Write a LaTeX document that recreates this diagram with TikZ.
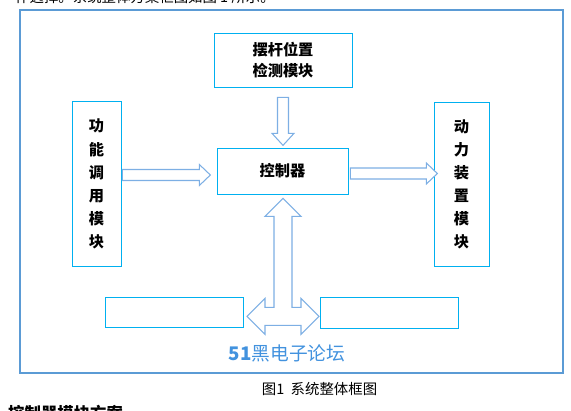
\documentclass[tikz,border=0pt]{standalone}
\usepackage{fontspec}
\usepackage{tikz}
\usetikzlibrary{calc,positioning}
\newfontfamily\cjk{Noto Sans CJK SC}
\definecolor{frameblue}{RGB}{91,155,213}
\definecolor{boxcyan}{RGB}{0,176,240}
\definecolor{arrblue}{RGB}{125,175,228}
\definecolor{wmblue}{RGB}{66,146,222}
\newcommand{\harr}[2]{% hollow block arrow to the right, from #1, length #2
  \draw[blk, shift={#1}] (0,-5.5) -- ({#2-11},-5.5) -- ({#2-11},-10.5) -- (#2,0)
    -- ({#2-11},10.5) -- ({#2-11},5.5) -- (0,5.5) -- cycle;}
\newcommand{\varr}[2]{% hollow block arrow downwards
  \draw[blk, shift={#1}] (-5.5,0) -- (-5.5,{#2-12}) -- (-11,{#2-12}) -- (0,#2)
    -- (11,{#2-12}) -- (5.5,{#2-12}) -- (5.5,0) -- cycle;}
\tikzset{
  modbox/.style={draw=boxcyan, line width=0.6pt, inner sep=0pt, align=center,
    font=\cjk\bfseries\fontsize{13pt}{17.9pt}\selectfont},
  colbox/.style={modbox, minimum height=4.93cm,
    font=\cjk\bfseries\fontsize{13pt}{19.7pt}\selectfont},
  blk/.style={draw=arrblue, line width=0.9pt, fill=white, line join=miter},
  frm/.style={draw=frameblue, line width=0.9pt},
  wmark/.style={text=wmblue, font=\cjk\fontsize{16pt}{18pt}\selectfont},
  capt/.style={font=\cjk\fontsize{12.3pt}{14pt}\selectfont},
}
\begin{document}
\begin{tikzpicture}[x=0.03cm,y=-0.03cm]
\useasboundingbox (0,0) rectangle (571,410);
\clip (0,0) rectangle (571,410);
% text of the page around the figure
\node[capt, anchor=west, inner sep=0pt] (pretext) at (15,-3) {作选择。系统整体方案框图如图 1 所示。};
\node[anchor=west, inner sep=0pt, font=\cjk\bfseries\fontsize{14pt}{16pt}\selectfont] (posttext) at (8,413) {控制器模块方案};
\draw[frm] (20,10) rectangle (563,373);
% modules
\node[modbox, minimum width=4.14cm, minimum height=1.62cm] (det) at (283,60) {摆杆位置\\检测模块};
\node[modbox, minimum width=3.93cm, minimum height=1.38cm] (ctrl) at (282.5,171) {控制器};
\node[colbox, minimum width=1.47cm] (func) at (96.5,184) {功\\能\\调\\用\\模\\块};
\node[colbox, minimum width=1.65cm] (dyn) at (461.5,184.5) {动\\力\\装\\置\\模\\块};
\node[modbox, minimum width=4.14cm, minimum height=0.9cm] (lbox) at (174,312) {};
\node[modbox, minimum width=4.14cm, minimum height=0.93cm] (rbox) at (389,312.5) {};
% arrows
\coordinate (a1) at ($(func.east |- ctrl.west)+(1,4)$);
\coordinate (a2) at ($(ctrl.east)+(2,2.5)$);
\coordinate (a3) at ($(det.south)+(0,10)$);
\coordinate (hub) at ($(ctrl.south)+(0.5,122)$);
\harr{(a1)}{88}
\harr{(a2)}{87}
\varr{(a3)}{48}
\draw[blk, shift={(hub)}] (0,-118) -- (18,-100) -- (9,-100) -- (9,-9) -- (18,-9)
  -- (18,-18) -- (36,0) -- (18,18) -- (18,9) -- (-18,9) -- (-18,18) -- (-36,0)
  -- (-18,-18) -- (-18,-9) -- (-9,-9) -- (-9,-100) -- (-18,-100) -- cycle;
\node[wmark] (wm) at (287,353) {{\bfseries 51}黑电子论坛};
\node[capt] (cap) at (319.5,389) {图1\ \ 系统整体框图};
\end{tikzpicture}
\end{document}
